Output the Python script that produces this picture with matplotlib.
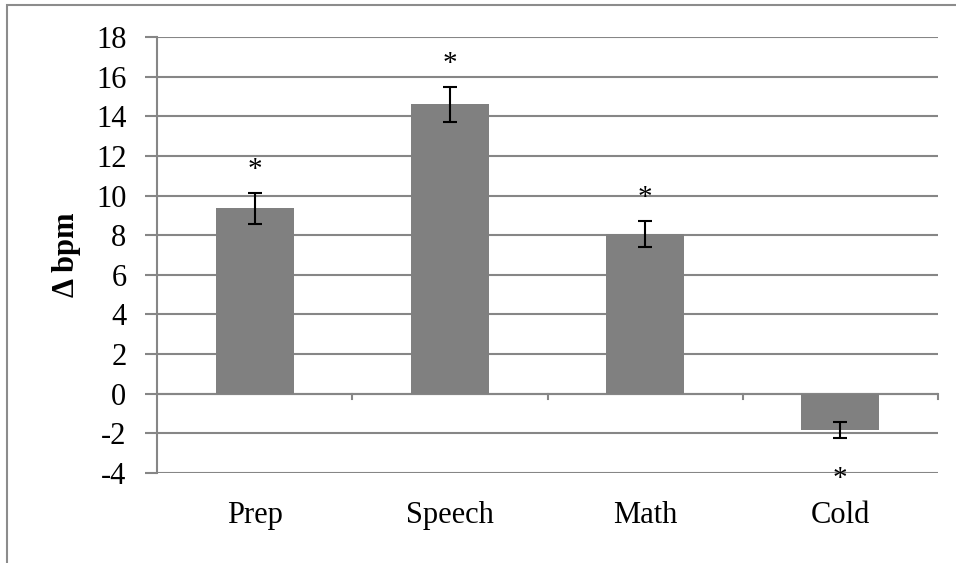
import matplotlib.pyplot as plt
import numpy as np
from matplotlib.patches import Rectangle

# Heart rate change per condition
conditions = ['Prep', 'Speech', 'Math', 'Cold']
delta_bpm = [9.35, 14.6, 8.05, -1.85]
sem = [0.8, 0.9, 0.65, 0.4]
significant = [True, True, True, True]

plt.rcParams['font.family'] = ['Liberation Serif', 'DejaVu Serif']
plt.rcParams['axes.unicode_minus'] = False

fig = plt.figure(figsize=(9.56, 5.63), dpi=100)
ax = fig.add_axes([157 / 956, 1 - 473 / 563, (938 - 157) / 956, (473 - 37) / 563])

# outer chart border (clipped on right/bottom like the original)
fig.patches.append(Rectangle((7 / 956, -0.05), 1.2, 1 - 5 / 563 + 0.05, transform=fig.transFigure,
                             fill=False, edgecolor='#8c8c8c', linewidth=1.5))

grid_color = '#868686'
x = np.arange(len(conditions))
ax.bar(x, delta_bpm, width=0.4, color='#808080', zorder=3)
ax.errorbar(x, delta_bpm, yerr=sem, fmt='none', ecolor='black', elinewidth=1.5,
            capsize=4.8, capthick=1.5, zorder=4)

# significance stars
for xi, v, e, sig in zip(x, delta_bpm, sem, significant):
    if not sig:
        continue
    if v >= 0:
        ax.text(xi, v + e + 0.5, '*', ha='center', va='bottom', fontsize=21)
    else:
        ax.text(xi, v - e - 2.7, '*', ha='center', va='bottom', fontsize=21)

ax.set_xlim(-0.5, len(conditions) - 0.5)
ax.set_ylim(-4, 18)
ax.set_yticks(np.arange(-4, 19, 2))
ax.yaxis.grid(True, color=grid_color, linewidth=1.5, zorder=0)
ax.set_axisbelow(True)

for side in ['top', 'right', 'bottom']:
    ax.spines[side].set_visible(False)
ax.spines['left'].set_color(grid_color)
ax.spines['left'].set_linewidth(1.5)

# horizontal axis line at zero with tick marks between categories
ax.axhline(0, color=grid_color, linewidth=1.5, zorder=2)
for b in np.arange(0.5, len(conditions), 1.0):
    ax.plot([b, b], [0, -0.25], color=grid_color, linewidth=1.5, clip_on=False, zorder=2)

ax.tick_params(axis='y', length=9, width=1.5, color=grid_color, labelsize=22, pad=13)
ax.set_xticks(x)
ax.set_xticklabels(conditions)
ax.tick_params(axis='x', length=0, labelsize=22, pad=20)

ax.set_ylabel('Δ bpm', fontsize=22, fontweight='bold', labelpad=11)

fig.savefig('out.png', dpi=100)
